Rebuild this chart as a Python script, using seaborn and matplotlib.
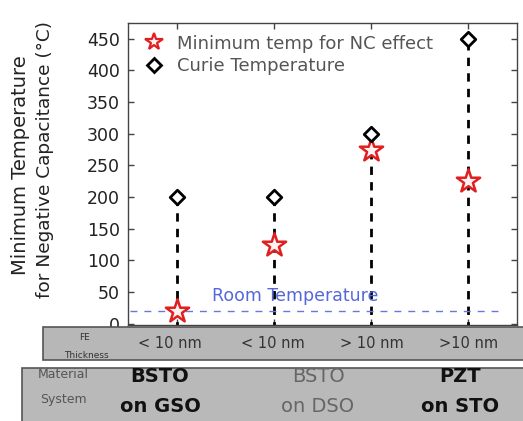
import matplotlib
matplotlib.use("Agg")
import matplotlib.pyplot as plt
from matplotlib.patches import Rectangle
from matplotlib.lines import Line2D
import seaborn as sns
import pandas as pd

# Data
samples = ["BSTO on GSO", "BSTO on DSO (1)", "BSTO on DSO (2)", "PZT on STO"]
positions = [1, 2, 3, 4]
curie_temp = [200, 200, 300, 450]
min_nc_temp = [20, 125, 275, 225]
room_temp = 20
y_ticks = [0, 50, 100, 150, 200, 250, 300, 350, 400, 450]
thickness_labels = ["< 10 nm", "< 10 nm", "> 10 nm", ">10 nm"]
material_top = ["BSTO", "BSTO", "PZT"]
material_bottom = ["on GSO", "on DSO", "on STO"]

df = pd.DataFrame({"pos": positions, "curie": curie_temp, "nc": min_nc_temp})

sns.set_theme(style="white")
plt.rcParams["font.family"] = ["DejaVu Sans"]

W, H = 523, 421
fig = plt.figure(figsize=(W / 100, H / 100), dpi=100)


def fx(px):
    return px / W


def fy(py):
    return 1 - py / H


ax = fig.add_axes([fx(128), fy(325), fx(517) - fx(128), fy(23) - fy(325)])

# dashed drop lines from each Curie point down to the axis
ax.vlines(df["pos"], -10, df["curie"], colors="black", linewidth=2.0,
          linestyles=(0, (3, 2.6)), zorder=1)

# room temperature reference
ax.plot([0.52, 4.3], [room_temp, room_temp], color="#6a78d8", linewidth=1.0,
        linestyle=(0, (5, 5)), zorder=1)
ax.text(2.22, room_temp + 24, "Room Temperature", color="#5468d8",
        fontsize=12.5, ha="center", va="center")

star_style = dict(facecolor="#fff2f2", edgecolor="#e02020", linewidth=1.8)
diamond_style = dict(facecolor="white", edgecolor="black", linewidth=2.0)
sns.scatterplot(data=df, x="pos", y="nc", marker="*", s=310,
                ax=ax, zorder=3, legend=False, **star_style)
sns.scatterplot(data=df, x="pos", y="curie", marker="D", s=55,
                ax=ax, zorder=3, legend=False, **diamond_style)

ax.set_xlim(0.5, 4.5)
ax.set_ylim(-2, 475)
ax.set_xticks(positions)
ax.set_xticklabels([])
ax.set_yticks(y_ticks)
ax.set_yticklabels([str(t) for t in y_ticks], fontsize=12.5, color="#222222")
ax.set_xlabel("")
ax.set_ylabel("")
ax.tick_params(direction="in", length=4, width=1, color="#444444",
               top=True, right=True, bottom=True, left=True, pad=6)
for sp in ax.spines.values():
    sp.set_color("#444444")
    sp.set_linewidth(1.0)

handles = [
    Line2D([], [], linestyle="none", marker="*", markersize=13,
           markerfacecolor="#fff2f2", markeredgecolor="#e02020", markeredgewidth=1.6),
    Line2D([], [], linestyle="none", marker="D", markersize=7.2,
           markerfacecolor="white", markeredgecolor="black", markeredgewidth=2.0),
]
leg = ax.legend(handles, ["Minimum temp for NC effect", "Curie Temperature"],
                loc="upper left", frameon=False, fontsize=13,
                handletextpad=0.8, borderaxespad=0.0, labelspacing=0.25,
                handlelength=1.0, bbox_to_anchor=(0.025, 0.985))
for t in leg.get_texts():
    t.set_color("#555555")

# y-axis title, two lines
fig.text(fx(21), fy(165), "Minimum Temperature", rotation=90, ha="center",
         va="center", fontsize=14, color="#222222")
fig.text(fx(45), fy(160), "for Negative Capacitance (°C)", rotation=90,
         ha="center", va="center", fontsize=13.3, color="#222222")

# FE thickness band
fig.patches.append(Rectangle((fx(43), fy(360)), fx(530) - fx(43), fy(327) - fy(360),
                             transform=fig.transFigure, facecolor="#b7b7b7",
                             edgecolor="#555555", linewidth=1.2, zorder=0))
fig.text(fx(84), fy(338), "FE", fontsize=6.5, color="#333333", ha="center", va="center")
fig.text(fx(86), fy(355), "Thickness", fontsize=6.5, color="#333333", ha="center", va="center")
for px, lab in zip([170, 273, 372, 469], thickness_labels):
    fig.text(fx(px), fy(344), lab, fontsize=10.5, color="#333333",
             ha="center", va="center")

# material system band
fig.patches.append(Rectangle((fx(22), fy(430)), fx(530) - fx(22), fy(368) - fy(430),
                             transform=fig.transFigure, facecolor="#b9b9b9",
                             edgecolor="#555555", linewidth=1.2, zorder=0))
fig.text(fx(63), fy(375), "Material", fontsize=9, color="#555555", ha="center", va="center")
fig.text(fx(63), fy(400), "System", fontsize=9, color="#555555", ha="center", va="center")
styles = [("bold", "#111111"), ("normal", "#666666"), ("bold", "#111111")]
for px, top, bot, (wt, col) in zip([160, 318, 460], material_top, material_bottom, styles):
    fig.text(fx(px), fy(377), top, fontsize=14, fontweight=wt, color=col,
             ha="center", va="center")
    fig.text(fx(px), fy(407), bot, fontsize=14, fontweight=wt, color=col,
             ha="center", va="center")

fig.savefig("out.png", dpi=100)
